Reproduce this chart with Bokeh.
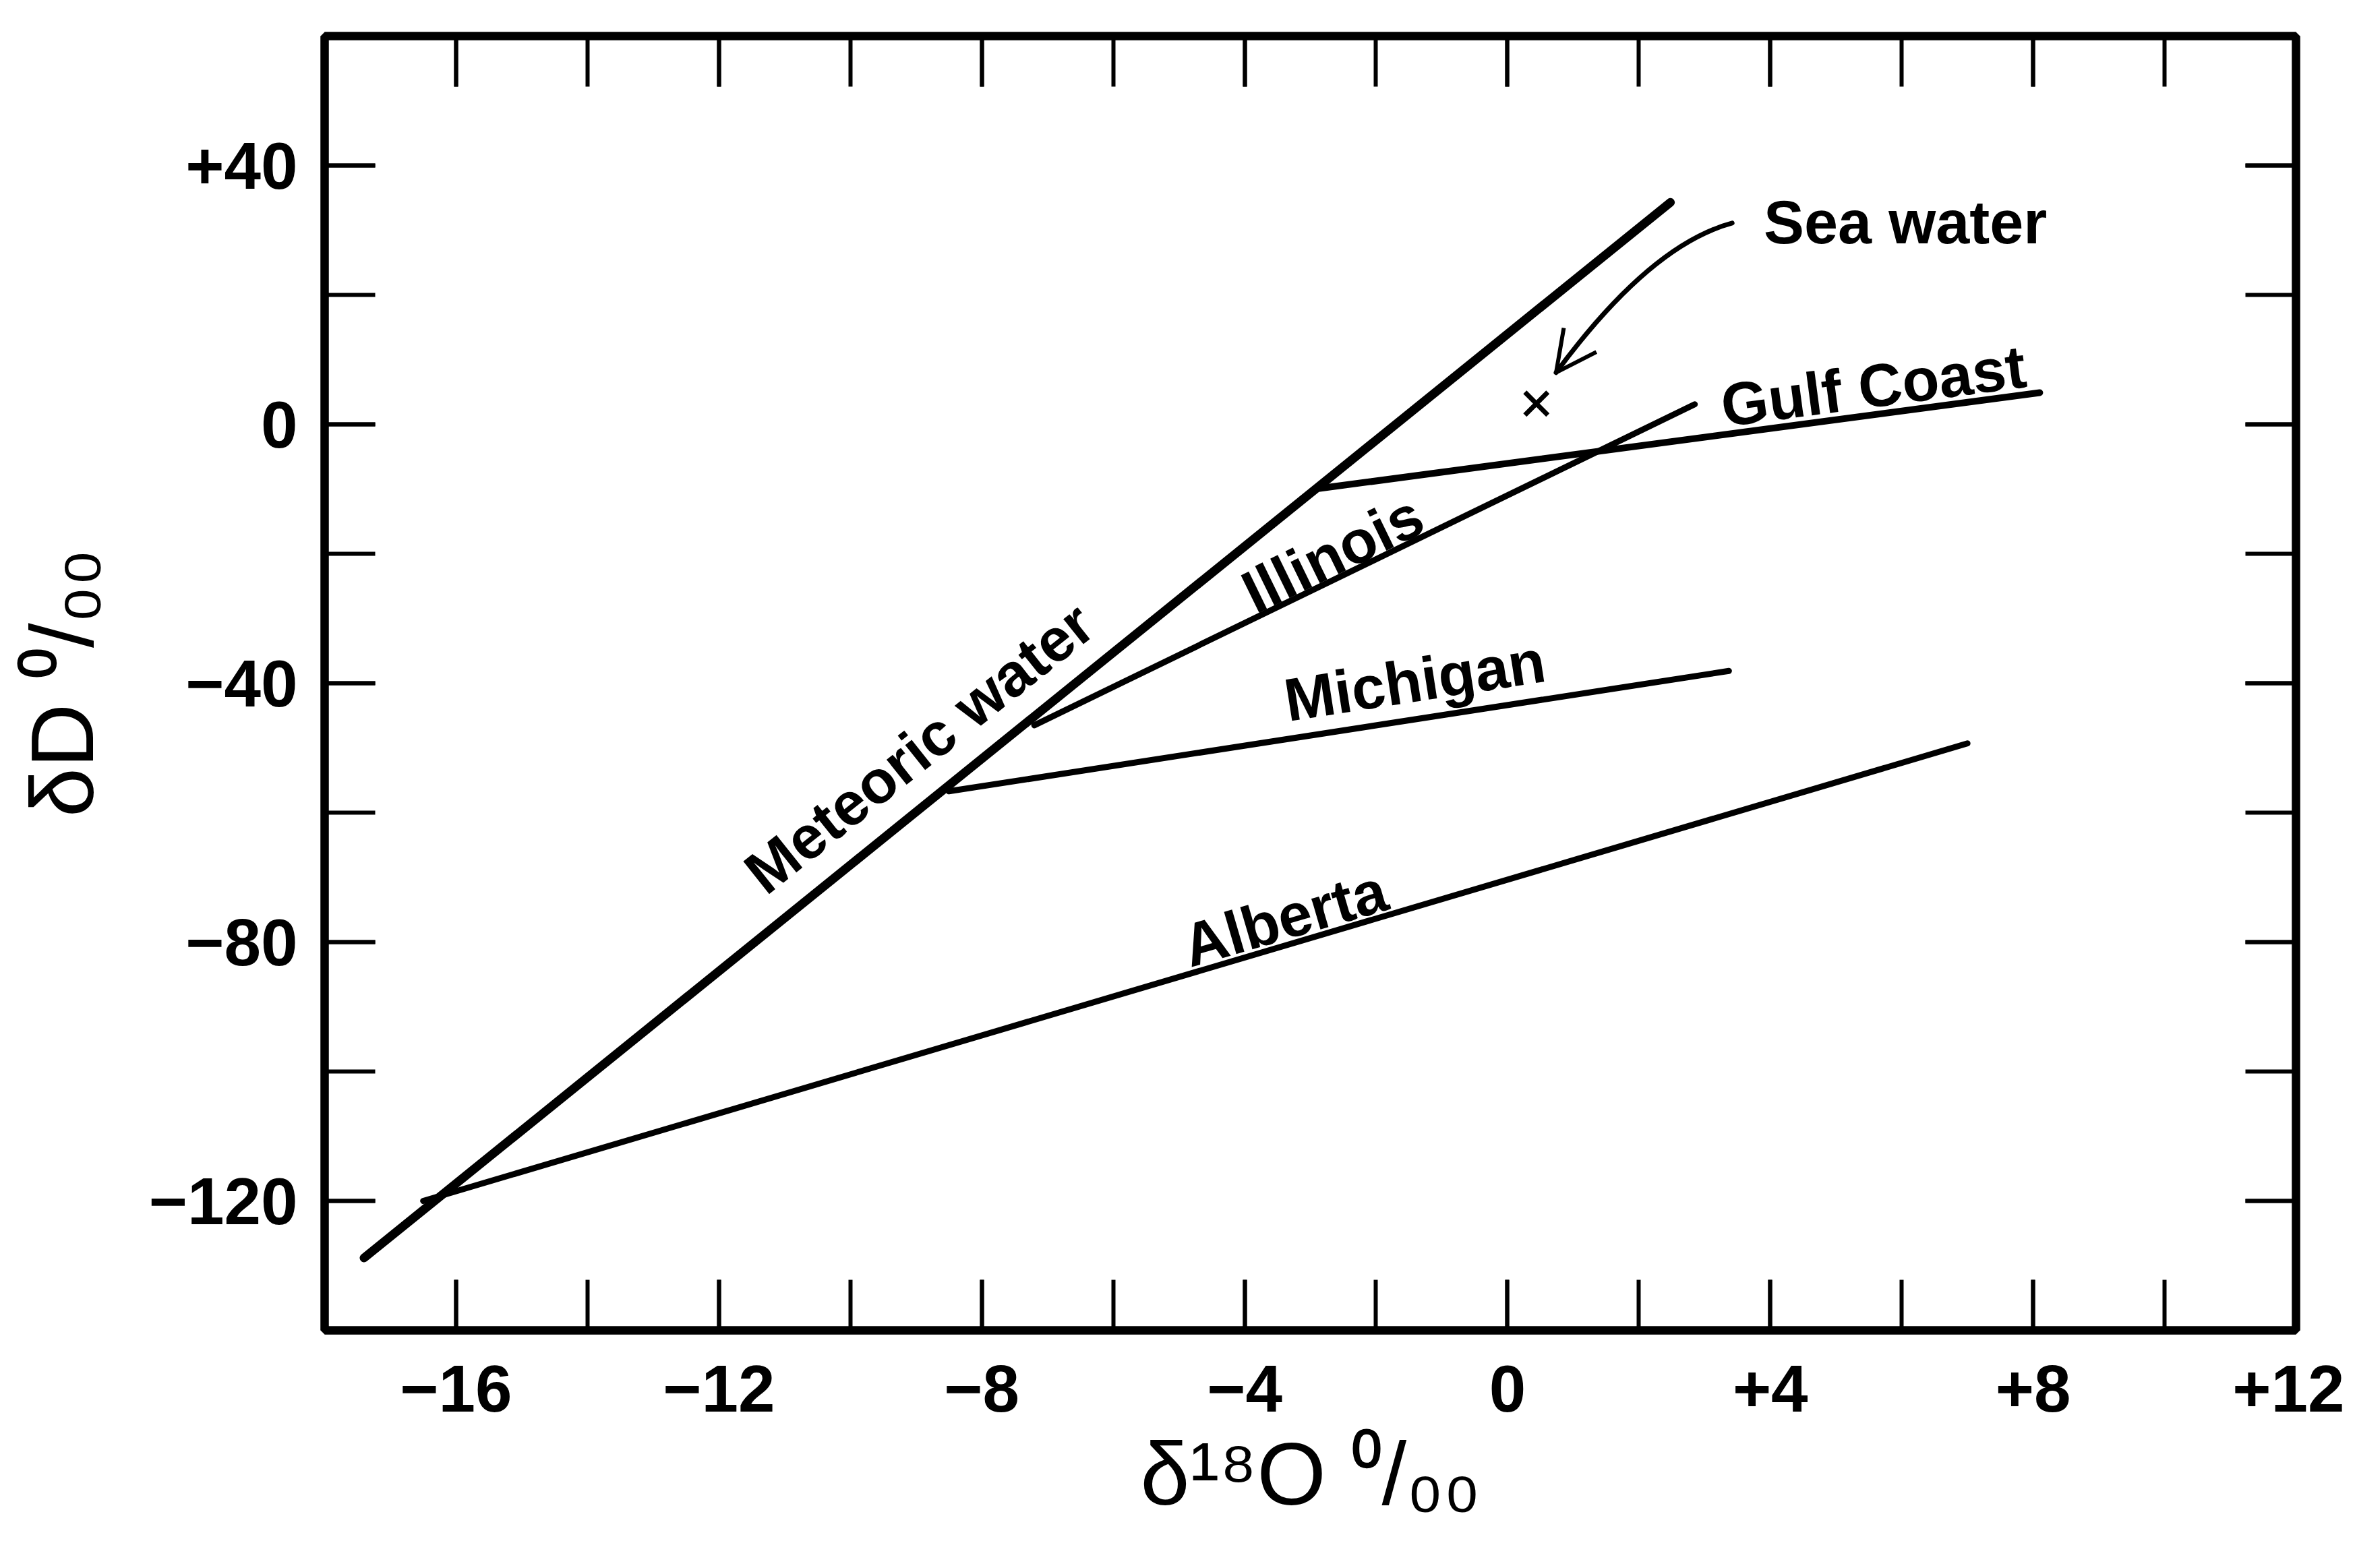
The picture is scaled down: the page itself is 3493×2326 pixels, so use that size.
from bokeh.plotting import figure
from bokeh.models import LinearAxis, SingleIntervalTicker, Range1d, Label, Arrow, OpenHead
from bokeh.embed import file_html
from bokeh.resources import INLINE
import math

# ---------------- data ----------------
meteoric_x = [-17.4, 2.48]
meteoric_y = [-128.8, 34.3]
alberta_x = [-16.5, 7.0]
alberta_y = [-120.0, -49.3]
michigan_x = [-8.5, 3.37]
michigan_y = [-56.7, -38.1]
illinois_x = [-7.2, 2.85]
illinois_y = [-46.5, 3.1]
gulf_x = [-2.86, 8.1]
gulf_y = [-9.9, 4.9]
seawater_x = [0.44]
seawater_y = [3.2]
# sea-water pointer: start, control point, tip (quadratic curve)
pointer_x = [3.42, 2.17, 0.74]
pointer_y = [31.1, 27.7, 8.0]

x_ticks = [-16, -12, -8, -4, 0, 4, 8, 12]
x_tick_labels = ["\u221216", "\u221212", "\u22128", "\u22124", "0", "+4", "+8", "+12"]
y_ticks = [-120, -80, -40, 0, 40]
y_tick_labels = ["\u2212120", "\u221280", "\u221240", "0", "+40"]

x_label = "\u03b4\u00b9\u2078O \u2070/\u2080\u2080"
y_label = "\u03b4D \u2070/\u2080\u2080"

# ---------------- figure ----------------
FONT = "Liberation Sans"
INK = "black"

p = figure(width=3477, height=2310,
           x_range=Range1d(-18, 12), y_range=Range1d(-140, 60),
           output_backend="svg", toolbar_location=None,
           min_border_left=481, min_border_right=72,
           min_border_top=53, min_border_bottom=337,
           background_fill_color="white", border_fill_color="white")
p.xgrid.visible = False
p.ygrid.visible = False
p.outline_line_color = INK
p.outline_line_width = 12

TICK_IN = 75


def style_axis(ax, interval, labels=None):
    ax.ticker = SingleIntervalTicker(interval=interval, num_minor_ticks=2)
    ax.axis_line_color = INK
    ax.axis_line_width = 12
    ax.major_tick_in = TICK_IN
    ax.major_tick_out = 0
    ax.minor_tick_in = TICK_IN
    ax.minor_tick_out = 0
    ax.major_tick_line_width = 6
    ax.minor_tick_line_width = 6
    ax.major_tick_line_color = INK
    ax.minor_tick_line_color = INK
    if labels is not None:
        ax.major_label_overrides = labels
        ax.major_label_text_font = FONT
        ax.major_label_text_font_size = "98px"
        ax.major_label_text_font_style = "bold"
        ax.major_label_text_color = INK
    else:
        ax.major_label_text_color = None


xlab = {t: l for t, l in zip(x_ticks, x_tick_labels)}
ylab = {t: l for t, l in zip(y_ticks, y_tick_labels)}

bx = p.xaxis[0]
style_axis(bx, 4, xlab)
bx.major_label_standoff = 52
bx.axis_label = x_label
bx.axis_label_text_font = FONT
bx.axis_label_text_font_size = "132px"
bx.axis_label_text_font_style = "normal"
bx.axis_label_text_color = INK
bx.axis_label_standoff = 16

ly = p.yaxis[0]
style_axis(ly, 40, ylab)
ly.major_label_standoff = 40
ly.axis_label = y_label
ly.axis_label_text_font = FONT
ly.axis_label_text_font_size = "132px"
ly.axis_label_text_font_style = "normal"
ly.axis_label_text_color = INK
ly.axis_label_standoff = 52

top_ax = LinearAxis()
style_axis(top_ax, 4)
p.add_layout(top_ax, "above")
right_ax = LinearAxis()
style_axis(right_ax, 40)
p.add_layout(right_ax, "right")

# ---------------- lines ----------------
p.line(meteoric_x, meteoric_y, line_width=13, line_color=INK, line_cap="round")
p.line(alberta_x, alberta_y, line_width=9, line_color=INK, line_cap="round")
p.line(michigan_x, michigan_y, line_width=9, line_color=INK, line_cap="round")
p.line(illinois_x, illinois_y, line_width=9, line_color=INK, line_cap="round")
p.line(gulf_x, gulf_y, line_width=10, line_color=INK, line_cap="round")

p.scatter(seawater_x, seawater_y, marker="x", size=48, line_width=7, line_color=INK)

p.quadratic(x0=[pointer_x[0]], y0=[pointer_y[0]], x1=[pointer_x[2]], y1=[pointer_y[2]],
            cx=[pointer_x[1]], cy=[pointer_y[1]], line_width=7, line_color=INK, line_cap="round")
p.add_layout(Arrow(end=OpenHead(size=60, line_width=6, line_color=INK),
                   x_start=pointer_x[1] + 0.75 * (pointer_x[2] - pointer_x[1]),
                   y_start=pointer_y[1] + 0.75 * (pointer_y[2] - pointer_y[1]),
                   x_end=pointer_x[2], y_end=pointer_y[2],
                   line_width=0, line_alpha=0))


# ---------------- text labels ----------------
def lab(x, y, text, deg, align="center"):
    p.add_layout(Label(x=x, y=y, text=text, angle=math.radians(deg),
                       text_align=align, text_baseline="middle",
                       text_font=FONT, text_font_size="90px", text_font_style="bold",
                       text_color=INK))


lab(-8.95, -50.0, "Meteoric water", 38.5)
lab(-2.66, -20.0, "Illinois", 26)
lab(-1.41, -39.6, "Michigan", 8.8)
lab(-3.39, -76.3, "Alberta", 16.3)
lab(5.57, 5.9, "Gulf Coast", 7.5)
lab(3.9, 31.2, "Sea water", 0, align="left")

open("out.html", "w").write(file_html(p, INLINE))
